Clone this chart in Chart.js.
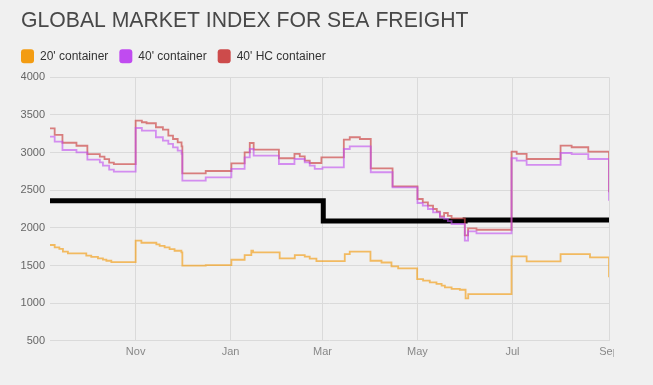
<!DOCTYPE html>
<html lang="en">
<head>
  <meta charset="UTF-8">
  <title>Global Market Index for Sea Freight</title>
  <script src="https://cdn.jsdelivr.net/npm/chart.js"></script>
  <style>
    body { margin: 0; background: #f0f0f0; }
    #wrap { width: 614px; height: 385px; overflow: hidden; }
  </style>
</head>
<body>
  <div id="wrap"><canvas id="freightChart" width="640" height="385"></canvas></div>
  <script>
    // x values are days counted from 1 Sep of the first year
    const monthTicks = [61, 122, 181, 242, 303, 365];
    const monthLabels = ['Nov', 'Jan', 'Mar', 'May', 'Jul', 'Sep'];

    // 20' container
    const days20 = [6, 9, 12, 14.3, 17.5, 29.3, 32.5, 36.8, 40, 42.2, 45.4, 61, 64.7, 74.3, 76.4, 79.6, 82.8, 86, 90.4, 91,
      106, 122.5, 131, 135.3, 136.4, 153.5, 163.2, 169.6, 172.8, 177.1, 195.3, 198.5, 211.8, 218.9, 225.3, 229.6, 241.8,
      245.6, 249.9, 254.2, 257.5, 259.6, 263.9, 269.2, 272.9, 274.6, 302.4, 312.1, 333.9, 352.8, 365];
    const price20 = [1772, 1741, 1720, 1683, 1662, 1630, 1615, 1595, 1577, 1563, 1546, 1829, 1802, 1780, 1760, 1740, 1718, 1696, 1674, 1497,
      1505, 1576, 1639, 1696, 1674, 1595, 1639, 1617, 1590, 1559, 1652, 1683, 1563, 1540, 1488, 1462, 1320,
      1300, 1276, 1255, 1232, 1210, 1190, 1178, 1063, 1120, 1621, 1555, 1652, 1608, 1343];

    // 40' container
    const days40 = [6, 9, 14, 23, 30, 38, 40, 44, 47, 61, 65, 74, 78.5, 82, 85, 88, 90.5, 91, 106, 122.5, 131, 134.3, 136.8,
      153, 163, 169.6, 172.8, 176, 181, 194.7, 198.5, 212, 226, 242, 245.4, 248.7, 252, 256.4, 259.1, 261.5, 263.9,
      272.4, 274.5, 279.9, 302.4, 305.7, 312.1, 333.9, 341, 351.7, 365];
    const price40 = [3211, 3144, 3034, 3003, 2905, 2870, 2826, 2773, 2746, 3326, 3291, 3203, 3158, 3114, 3069, 3025, 2981, 2626, 2671, 2782, 2937, 3047, 2958,
      2848, 2914, 2870, 2826, 2782, 2804, 3047, 3083, 2738, 2538, 2330, 2294, 2250, 2206, 2140, 2120, 2090, 2051,
      1829, 1954, 1927, 2924, 2892, 2835, 2994, 2980, 2914, 2360];

    // 40' HC container
    const daysHC = [6, 9, 14, 23, 30, 38, 41, 44, 47, 61, 65, 68, 74, 78.5, 82, 85, 88, 90.5, 91, 106, 122.5, 131, 134.3, 136.8,
      153, 163, 166.4, 169.6, 172.8, 180.3, 194.7, 198.5, 205, 212, 226, 242, 245.4, 248.7, 252, 254.4, 256.4, 259.1,
      261.5, 263.9, 272.4, 274.5, 279.9, 302.4, 305.7, 312.1, 333.9, 341, 351.7, 365];
    const priceHC = [3320, 3235, 3130, 3090, 2980, 2945, 2912, 2865, 2845, 3423, 3402, 3389, 3336, 3304, 3224, 3180, 3136, 3083, 2724, 2755, 2857, 3003, 3127, 3038,
      2924, 2981, 2950, 2892, 2861, 2937, 3171, 3203, 3180, 2791, 2552, 2383, 2339, 2294, 2250, 2215, 2153, 2197,
      2160, 2127, 1900, 1994, 1975, 3012, 2981, 2914, 3091, 3070, 3012, 2472];

    // black reference line
    const daysRef = [6, 181.5, 272.6, 365];
    const priceRef = [2360, 2090, 2105, 2105];

    const toPoints = (xs, ys) => xs.map((x, i) => ({ x: x, y: ys[i] }));

    // nudge the legend so it lines up with the title
    const legendNudge = {
      id: 'legendNudge',
      afterLayout: chart => {
        chart.legend.left -= 11;
        chart.legend.top -= 4;
      }
    };

    const ctx = document.getElementById('freightChart').getContext('2d');
    new Chart(ctx, {
      type: 'line',
      data: {
        datasets: [
          {
            label: "20' container",
            data: toPoints(days20, price20),
            borderColor: 'rgba(243, 156, 18, 0.65)',
            backgroundColor: '#f39c12',
            borderWidth: 1.8,
            stepped: true,
            pointRadius: 0
          },
          {
            label: "40' container",
            data: toPoints(days40, price40),
            borderColor: 'rgba(192, 75, 240, 0.6)',
            backgroundColor: '#c04bf0',
            borderWidth: 1.8,
            stepped: true,
            pointRadius: 0
          },
          {
            label: "40' HC container",
            data: toPoints(daysHC, priceHC),
            borderColor: 'rgba(205, 75, 75, 0.7)',
            backgroundColor: '#cd4b4b',
            borderWidth: 1.8,
            stepped: true,
            pointRadius: 0
          },
          {
            label: 'ref',
            data: toPoints(daysRef, priceRef),
            borderColor: '#000',
            backgroundColor: '#000',
            borderWidth: 5,
            borderCapStyle: 'round',
            stepped: true,
            pointRadius: 0
          }
        ]
      },
      plugins: [legendNudge],
      options: {
        responsive: false,
        animation: false,
        layout: { padding: { left: 21, right: 31, top: 8, bottom: 21 } },
        plugins: {
          title: {
            display: true,
            text: 'GLOBAL MARKET INDEX FOR SEA FREIGHT',
            align: 'start',
            color: '#484848',
            font: { family: "'Liberation Sans', Arial, sans-serif", size: 21.2, weight: 'normal' },
            padding: { top: 0, bottom: 8.8 }
          },
          legend: {
            align: 'start',
            labels: {
              boxWidth: 13,
              boxHeight: 14,
              useBorderRadius: true,
              borderRadius: 3,
              padding: 11,
              color: '#333',
              font: { family: "'Liberation Sans', Arial, sans-serif", size: 12 },
              filter: item => item.text !== 'ref',
              generateLabels: chart => Chart.defaults.plugins.legend.labels.generateLabels(chart).map(l => {
                l.strokeStyle = l.fillStyle;
                l.lineWidth = 0;
                return l;
              })
            }
          },
          tooltip: { enabled: false }
        },
        scales: {
          x: {
            type: 'linear',
            min: 6,
            max: 365,
            afterBuildTicks: axis => { axis.ticks = monthTicks.map(v => ({ value: v })); },
            ticks: {
              autoSkip: false,
              maxRotation: 0,
              padding: 5,
              color: '#888',
              font: { family: "'Liberation Sans', Arial, sans-serif", size: 11 },
              callback: value => monthLabels[monthTicks.indexOf(value)]
            },
            grid: { color: '#dadada', drawTicks: false },
            border: { display: false }
          },
          y: {
            min: 500,
            max: 4000,
            afterFit: axis => { axis.width = 29; },
            ticks: {
              stepSize: 500,
              padding: 5,
              color: '#666',
              font: { family: "'Liberation Sans', Arial, sans-serif", size: 11 },
              callback: value => String(value)
            },
            grid: { color: '#dadada', drawTicks: false },
            border: { display: false }
          }
        }
      }
    });
  </script>
</body>
</html>
